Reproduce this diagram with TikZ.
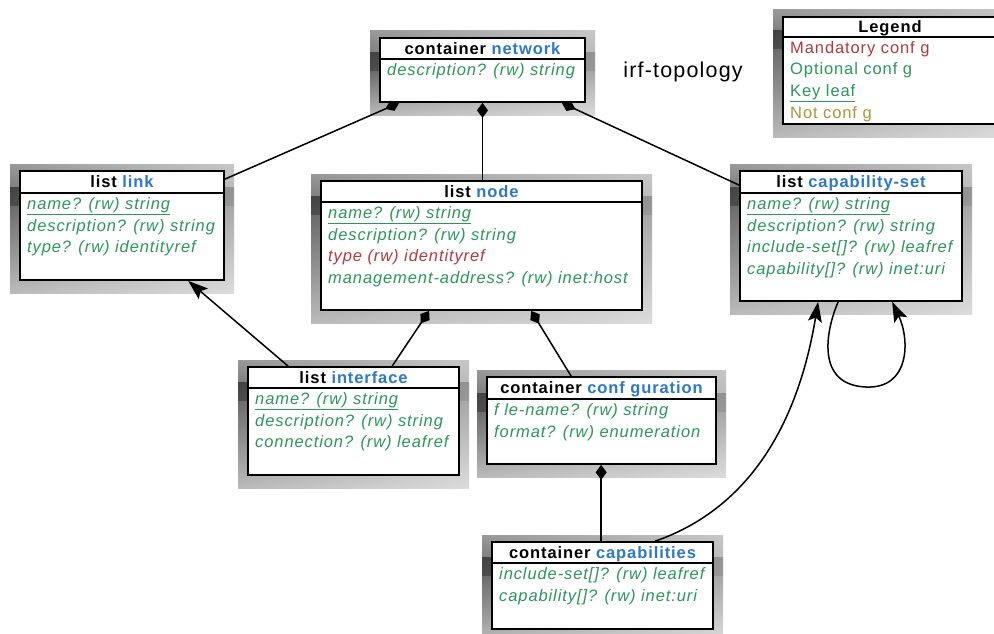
\documentclass[tikz,border=0pt]{standalone}
\usepackage{fontspec}
\setmainfont{Liberation Sans}[LetterSpace=5.5]
\usetikzlibrary{arrows.meta,fit,calc,shadings}

\definecolor{optgreen}{RGB}{44,150,92}
\definecolor{mandred}{RGB}{178,58,58}
\definecolor{namblue}{RGB}{45,120,200}
\definecolor{notcfg}{RGB}{170,150,60}

\tikzset{
  frame/.style={draw=black, line width=1.7pt, fill=white, inner sep=0pt},
  divider/.style={line width=1.7pt},
  headtext/.style={font=\fontsize{16.5}{19}\selectfont\bfseries, inner sep=0pt,
    text height=11.8pt, text depth=0pt},
  rowbase/.style={anchor=base west, inner sep=0pt},
  rowopt/.style={rowbase, font=\fontsize{16.5}{19}\selectfont\itshape, text=optgreen},
  rowkey/.style={rowopt},
  rowmand/.style={rowbase, font=\fontsize{16.5}{19}\selectfont\itshape, text=mandred},
  legopt/.style={rowbase, font=\fontsize{16.5}{19}\selectfont, text=optgreen},
  legmand/.style={rowbase, font=\fontsize{16.5}{19}\selectfont, text=mandred},
  legnot/.style={rowbase, font=\fontsize{16.5}{19}\selectfont, text=notcfg},
  conn/.style={line width=1.5pt, draw=black},
  compose/.style={conn, {Diamond[length=15pt,width=11pt]}-},
  refer/.style={conn, -{Stealth[length=20pt,width=14pt,inset=4pt]}},
}

% gradient drop shadow behind a box: x0 y0 x1 y1 and the header divider y
\newcommand\dropshade[5]{%
  \shade[upper left=black!40, upper right=black!22, lower left=black!50, lower right=black!26]
    ({#1-10},{#2-7}) rectangle ({#3+10},{#5-6});
  \shade[upper left=black!74, upper right=black!42, lower left=black!70, lower right=black!40]
    ({#1-10},{#5-6}) rectangle ({#3+10},{#5+13});
  \shade[upper left=black!58, upper right=black!34, lower left=black!27, lower right=black!14]
    ({#1-10},{#5+13}) rectangle ({#3+10},{#4+13});
}

% schema box: name, x0, y0, x1, y1, divider y, title, rows (style/text)
\newcommand\classbox[8]{%
  \dropshade{#2}{#3}{#4}{#5}{#6}
  \node[frame, fit={(#2,#3)(#4,#5)}] (#1) {};
  \draw[divider] (#2,#6) -- (#4,#6);
  \node[headtext] (#1-head) at ({(#2+#4)/2},{(#3+#6)/2}) {#7};
  \foreach \st/\tx [count=\i] in {#8}
    \node[\st] (#1-row\i) at ({#2+7},{#6+16.5+(\i-1)*21.5}) {\tx};
}

\begin{document}
\begin{tikzpicture}[x=1pt, y=-1pt]
\useasboundingbox (0,0) rectangle (994,634);
\fill[white] (0,0) rectangle (994,634);

\classbox{net}{380}{38}{585}{102}{59}
  {container \textcolor{namblue}{network}}
  {rowopt/{description? (rw) string}}

\classbox{legend}{783}{17}{997}{124}{37}
  {Legend}
  {legmand/{Mandatory conf g}, legopt/{Optional conf g},
   legopt/{\underline{Key leaf}}, legnot/{Not conf g}}

\classbox{link}{20}{171}{224}{280}{193}
  {list \textcolor{namblue}{link}}
  {rowkey/{\underline{name? (rw) string}}, rowopt/{description? (rw) string},
   rowopt/{type? (rw) identityref}}

\classbox{node}{321}{181}{642}{310}{202}
  {list \textcolor{namblue}{node}}
  {rowkey/{\underline{name? (rw) string}}, rowopt/{description? (rw) string},
   rowmand/{type (rw) identityref}, rowopt/{management-address? (rw) inet:host}}

\classbox{capset}{740}{171}{962}{301}{193}
  {list \textcolor{namblue}{capability-set}}
  {rowkey/{\underline{name? (rw) string}}, rowopt/{description? (rw) string},
   rowopt/{include-set[]? (rw) leafref}, rowopt/{capability[]? (rw) inet:uri}}

\classbox{iface}{248}{367}{459}{475}{388}
  {list \textcolor{namblue}{interface}}
  {rowkey/{\underline{name? (rw) string}}, rowopt/{description? (rw) string},
   rowopt/{connection? (rw) leafref}}

\classbox{cfg}{487}{377}{716}{464}{399}
  {container \textcolor{namblue}{conf guration}}
  {rowopt/{f le-name? (rw) string}, rowopt/{format? (rw) enumeration}}

\classbox{caps}{492}{542}{713}{629}{563}
  {container \textcolor{namblue}{capabilities}}
  {rowopt/{include-set[]? (rw) leafref}, rowopt/{capability[]? (rw) inet:uri}}

\node[font=\fontsize{21.5}{25}\selectfont, inner sep=0pt] (title) at (683,72) {irf-topology};

% containment
\draw[compose] ([xshift=20pt]net.south west) -- ([yshift=-9pt]link.north east);
\draw[compose] (net.south) -- (net.south |- node.north);
\draw[compose] ([xshift=-24pt]net.south east) -- ([yshift=-15pt]capset.north west);
\draw[compose] ([xshift=109pt]node.south west) -- ([xshift=145pt]iface.north west);
\draw[compose] ([xshift=211pt]node.south west) -- ([xshift=85pt]cfg.north west);
\draw[compose] ([xshift=115pt]cfg.south west) -- ([xshift=110pt]caps.north west);

% references
\draw[refer] ([xshift=41pt]iface.north west) -- ([xshift=169pt]link.south west);
\draw[refer] ([xshift=164pt]caps.north west)
  .. controls (745,510) and (797,430) .. ([xshift=79pt]capset.south west);
\draw[refer] ([xshift=99pt]capset.south west)
  .. controls (826,330) and (815,385) .. (866,387)
  .. controls (910,389) and (910,340) .. ([xshift=153pt]capset.south west);
\end{tikzpicture}
\end{document}
